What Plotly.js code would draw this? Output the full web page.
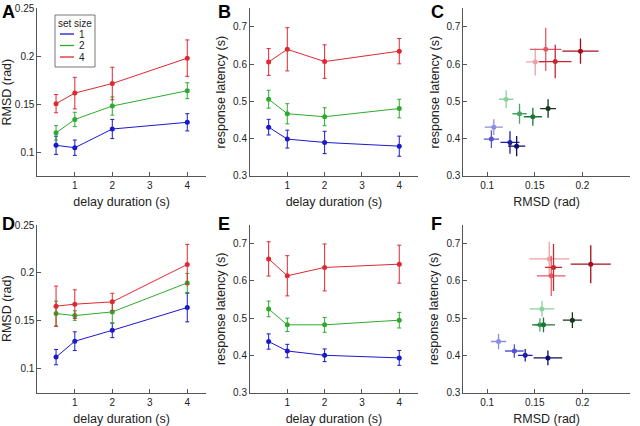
<!DOCTYPE html>
<html><head><meta charset="utf-8">
<script src="https://cdn.plot.ly/plotly-3.0.1.min.js"></script>
<style>html,body{margin:0;padding:0;background:#fff}#chart{width:640px;height:426px}</style>
</head><body><div id="chart"></div>
<script>
// ---------- data ----------
const delays = [0.5, 1, 2, 4];
const setSizes = ['1', '2', '4'];

// Panel A: RMSD (rad) vs delay, top row
const rmsdTop1 = [0.107, 0.1045, 0.124, 0.131];
const rmsdTop2 = [0.120, 0.134, 0.148, 0.164];
const rmsdTop4 = [0.1505, 0.1615, 0.1715, 0.198];
const rmsdTopErr1 = [0.0095, 0.008, 0.010, 0.009];
const rmsdTopErr2 = [0.0075, 0.0075, 0.0095, 0.0083];
const rmsdTopErr4 = [0.0095, 0.0165, 0.017, 0.019];

// Panel B: response latency (s) vs delay, top row
const latTop1 = [0.431, 0.399, 0.390, 0.380];
const latTop2 = [0.506, 0.467, 0.459, 0.481];
const latTop4 = [0.606, 0.640, 0.607, 0.635];
const latTopErr1 = [0.021, 0.024, 0.030, 0.027];
const latTopErr2 = [0.024, 0.027, 0.024, 0.025];
const latTopErr4 = [0.036, 0.058, 0.045, 0.034];

// Panel D: RMSD (rad) vs delay, bottom row
const rmsdBot1 = [0.112, 0.1286, 0.140, 0.1638];
const rmsdBot2 = [0.1575, 0.1554, 0.1592, 0.1895];
const rmsdBot4 = [0.1652, 0.1673, 0.1697, 0.2088];
const rmsdBotErr1 = [0.008, 0.0098, 0.0077, 0.015];
const rmsdBotErr2 = [0.013, 0.005, 0.012, 0.010];
const rmsdBotErr4 = [0.021, 0.015, 0.009, 0.021];

// Panel E: response latency (s) vs delay, bottom row
const latBot1 = [0.437, 0.4115, 0.400, 0.393];
const latBot2 = [0.5246, 0.4818, 0.4818, 0.4943];
const latBot4 = [0.659, 0.6136, 0.636, 0.6448];
const latBotErr1 = [0.0205, 0.018, 0.017, 0.020];
const latBotErr2 = [0.021, 0.018, 0.020, 0.021];
const latBotErr4 = [0.046, 0.054, 0.063, 0.051];

// ---------- styles ----------
const lineColors = ['rgb(25,25,205)', 'rgb(45,170,45)', 'rgb(222,40,50)'];
const shades = [
  ['rgb(140,140,228)', 'rgb(85,85,210)', 'rgb(30,30,165)', 'rgb(12,12,105)'],
  ['rgb(140,210,160)', 'rgb(70,165,100)', 'rgb(30,115,55)', 'rgb(20,55,28)'],
  ['rgb(240,160,165)', 'rgb(225,90,100)', 'rgb(200,40,50)', 'rgb(165,15,28)']
];
const FONT = 'Liberation Sans, Arial, sans-serif';

const rmsdTop = [rmsdTop1, rmsdTop2, rmsdTop4];
const rmsdTopErr = [rmsdTopErr1, rmsdTopErr2, rmsdTopErr4];
const latTop = [latTop1, latTop2, latTop4];
const latTopErr = [latTopErr1, latTopErr2, latTopErr4];
const rmsdBot = [rmsdBot1, rmsdBot2, rmsdBot4];
const rmsdBotErr = [rmsdBotErr1, rmsdBotErr2, rmsdBotErr4];
const latBot = [latBot1, latBot2, latBot4];
const latBotErr = [latBotErr1, latBotErr2, latBotErr4];

const traces = [];
function lineTraces(ys, errs, xa, ya) {
  ys.forEach((y, k) => {
    traces.push({
      type: 'scatter', mode: 'lines+markers', x: delays, y: y,
      xaxis: xa, yaxis: ya, name: setSizes[k], showlegend: false,
      line: {color: lineColors[k], width: 1},
      marker: {color: lineColors[k], size: 5},
      error_y: {type: 'data', array: errs[k], color: lineColors[k], thickness: 1, width: 2}
    });
  });
}
function crossTraces(xs, xerrs, ys, yerrs, xa, ya) {
  xs.forEach((xv, k) => {
    xv.forEach((v, i) => {
      traces.push({
        type: 'scatter', mode: 'markers', x: [v], y: [ys[k][i]],
        xaxis: xa, yaxis: ya, showlegend: false,
        marker: {color: shades[k][i], size: 5},
        error_x: {type: 'data', array: [xerrs[k][i]], color: shades[k][i], thickness: 1.3, width: 0},
        error_y: {type: 'data', array: [yerrs[k][i]], color: shades[k][i], thickness: 1.3, width: 0}
      });
    });
  });
}
lineTraces(rmsdTop, rmsdTopErr, 'x', 'y');
lineTraces(latTop, latTopErr, 'x2', 'y2');
crossTraces(rmsdTop, rmsdTopErr, latTop, latTopErr, 'x3', 'y3');
lineTraces(rmsdBot, rmsdBotErr, 'x4', 'y4');
lineTraces(latBot, latBotErr, 'x5', 'y5');
crossTraces(rmsdBot, rmsdBotErr, latBot, latBotErr, 'x6', 'y6');

// ---------- layout ----------
const axBase = {
  showline: true, linecolor: '#555', linewidth: 1, ticks: 'inside', ticklen: 4,
  tickcolor: '#555', showgrid: false, zeroline: false,
  tickfont: {size: 10, color: '#222', family: FONT}
};
const titleFont = {size: 12.5, color: '#222', family: FONT};
const colX = [[0.0583, 0.3219], [0.3906, 0.6530], [0.7239, 0.9844]];
const rowY = [[0.5869, 0.9805], [0.0786, 0.4718]];

function xDelay(dom, anchor) {
  return Object.assign({}, axBase, {domain: dom, anchor: anchor, range: [0, 4.5],
    tickvals: [1, 2, 3, 4], title: {text: 'delay duration (s)', font: titleFont, standoff: 7}});
}
function xRmsd(dom, anchor) {
  return Object.assign({}, axBase, {domain: dom, anchor: anchor, range: [0.075, 0.25],
    tickvals: [0.1, 0.15, 0.2, 0.25], title: {text: 'RMSD (rad)', font: titleFont, standoff: 7}});
}
function yRmsd(dom, anchor) {
  return Object.assign({}, axBase, {domain: dom, anchor: anchor, range: [0.075, 0.25],
    tickvals: [0.1, 0.15, 0.2, 0.25], title: {text: 'RMSD (rad)', font: titleFont, standoff: 3}});
}
function yLat(dom, anchor) {
  return Object.assign({}, axBase, {domain: dom, anchor: anchor, range: [0.3, 0.75],
    tickvals: [0.3, 0.4, 0.5, 0.6, 0.7], title: {text: 'response latency (s)', font: titleFont, standoff: 4}});
}

const letterFont = {size: 18, color: '#000', family: FONT};
function letter(t, px, py) {
  return {text: '<b>' + t + '</b>', xref: 'paper', yref: 'paper', x: px / 640, y: 1 - py / 426,
    xanchor: 'left', yanchor: 'middle', showarrow: false, font: letterFont};
}

// legend box for panel A (drawn as layout decoration, in pixel units)
const legBox = {left: 55, right: 95, top: 15, bottom: 67};
const legRows = [34, 45.5, 57];
const px = v => v / 640, py = v => 1 - v / 426;
const shapes = [{type: 'rect', xref: 'paper', yref: 'paper',
  x0: px(legBox.left), x1: px(legBox.right), y0: py(legBox.bottom), y1: py(legBox.top),
  line: {color: '#777', width: 1}, fillcolor: '#fff', layer: 'above'}];
const annotations = [
  letter('A', 0, 12), letter('B', 216, 12), letter('C', 429, 12),
  letter('D', 0, 224), letter('E', 216, 224), letter('F', 429, 224),
  {text: 'set size', xref: 'paper', yref: 'paper', x: px(75), y: py(23.5), xanchor: 'center', yanchor: 'middle',
    showarrow: false, font: {size: 10, family: FONT, color: '#222'}}
];
setSizes.forEach((s, k) => {
  shapes.push({type: 'line', xref: 'paper', yref: 'paper', x0: px(60), x1: px(74),
    y0: py(legRows[k]), y1: py(legRows[k]), line: {color: lineColors[k], width: 1.3}, layer: 'above'});
  annotations.push({text: s, xref: 'paper', yref: 'paper', x: px(77), y: py(legRows[k]),
    xanchor: 'left', yanchor: 'middle', showarrow: false, font: {size: 10, family: FONT, color: '#222'}});
});

const layout = {
  width: 640, height: 426,
  margin: {l: 0, r: 0, t: 0, b: 0},
  paper_bgcolor: '#fff', plot_bgcolor: '#fff',
  font: {family: FONT, color: '#222'},
  showlegend: false,
  xaxis: xDelay(colX[0], 'y'), yaxis: yRmsd(rowY[0], 'x'),
  xaxis2: xDelay(colX[1], 'y2'), yaxis2: yLat(rowY[0], 'x2'),
  xaxis3: xRmsd(colX[2], 'y3'), yaxis3: yLat(rowY[0], 'x3'),
  xaxis4: xDelay(colX[0], 'y4'), yaxis4: yRmsd(rowY[1], 'x4'),
  xaxis5: xDelay(colX[1], 'y5'), yaxis5: yLat(rowY[1], 'x5'),
  xaxis6: xRmsd(colX[2], 'y6'), yaxis6: yLat(rowY[1], 'x6'),
  shapes: shapes,
  annotations: annotations
};

Plotly.newPlot('chart', traces, layout, {displayModeBar: false, staticPlot: true});
</script>
</body></html>
